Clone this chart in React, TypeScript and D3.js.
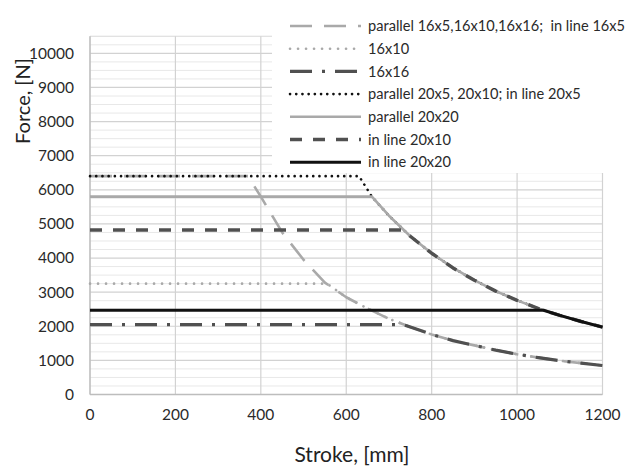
import React from "react";
import * as d3 from "d3";

const W = 636;
const H = 466;

// axis ticks
const xTicks = [0, 200, 400, 600, 800, 1000, 1200];
const yTicks = [0, 1000, 2000, 3000, 4000, 5000, 6000, 7000, 8000, 9000, 10000];
const yMinorStep = 250;
const xMax = 1200;
const yMax = 10500;

// lower buckling curve (16 mm screws)
const strokeLower = [400, 450, 500, 550, 600, 650, 700, 750, 800, 850, 900, 950, 1000, 1050, 1100, 1150, 1200];
const forceLower = [5800, 4750, 3950, 3280, 2850, 2520, 2220, 1980, 1760, 1580, 1440, 1300, 1180, 1080, 990, 920, 850];

// upper buckling curve (20 mm screws)
const strokeUpper = [700, 750, 800, 850, 900, 950, 1000, 1050, 1100, 1150, 1200];
const forceUpper = [5240, 4640, 4140, 3710, 3350, 3030, 2760, 2520, 2320, 2140, 1975];

// plateau segments of each series: [stroke, force]
const plateau16x5 = [[0, 6400], [370, 6400]];
const plateau16x10 = [[0, 3250], [555, 3250]];
const plateau16x16 = [[0, 2050], [733, 2050]];
const plateau20x5 = [[0, 6400], [630, 6400], [660, 5800]];
const plateau20x20p = [[0, 5800], [660, 5800]];
const plateau20x10 = [[0, 4820], [735, 4820]];
const plateau20x20 = [[0, 2470], [1062, 2470]];

const seriesNames = [
  "parallel 16x5,16x10,16x16;\u00a0 in line 16x5",
  "16x10",
  "16x16",
  "parallel 20x5, 20x10; in line 20x5",
  "parallel 20x20",
  "in line 20x10",
  "in line 20x20",
];

const lower = strokeLower.map((s, i) => [s, forceLower[i]]);
const upper = strokeUpper.map((s, i) => [s, forceUpper[i]]);
const tail = (pts: number[][], from: number) => pts.filter((p) => p[0] > from);

const seriesData: number[][][] = [
  [...plateau16x5, ...tail(lower, 370)],
  [...plateau16x10, ...tail(lower, 555)],
  [...plateau16x16, ...tail(lower, 733)],
  [...plateau20x5, ...tail(upper, 660)],
  [...plateau20x20p, ...tail(upper, 660)],
  [...plateau20x10, ...tail(upper, 735)],
  [...plateau20x20, ...tail(upper, 1062)],
];

const styles = [
  { stroke: "#a9a9a9", width: 2.6, dash: "22,12", cap: "butt" },
  { stroke: "#a9a9a9", width: 2.6, dash: "0.1,7.9", cap: "round" },
  { stroke: "#505050", width: 3.2, dash: "22,10,3,10", cap: "butt" },
  { stroke: "#111111", width: 2.6, dash: "0.1,6.1", cap: "round" },
  { stroke: "#a9a9a9", width: 2.6, dash: "", cap: "butt" },
  { stroke: "#505050", width: 3.4, dash: "12,11", cap: "butt" },
  { stroke: "#111111", width: 3, dash: "", cap: "butt" },
];

const FONT = "Lato, 'Open Sans', sans-serif";

export default function App() {
  const left = 90;
  const right = 602.5;
  const top = 36.3;
  const bottom = 394.5;
  const x = d3.scaleLinear().domain([0, xMax]).range([left, right]);
  const y = d3.scaleLinear().domain([0, yMax]).range([bottom, top]);
  const line = d3
    .line<number[]>()
    .x((d) => x(d[0]))
    .y((d) => y(d[1]));

  const minor = d3.range(0, yMax + 1, yMinorStep).filter((v) => v % 1000 !== 0);
  const majorY = d3.range(0, yMax + 1, 1000);

  const legX = 290;
  const legY0 = 26;
  const legStep = 22.7;

  return (
    <svg
      width={W}
      height={H}
      style={{ position: "absolute", left: 0, top: 0, background: "#fff" }}
      fontFamily={FONT}
    >
      <rect x={0} y={0} width={W} height={H} fill="#fff" />
      {minor.map((v) => (
        <line key={"mi" + v} x1={left} x2={right} y1={y(v)} y2={y(v)} stroke="#e8e8e8" strokeWidth={1} />
      ))}
      <line x1={left} x2={right} y1={y(yMax)} y2={y(yMax)} stroke="#e0e0e0" strokeWidth={1} />
      {majorY.map((v) => (
        <line key={"ma" + v} x1={left} x2={right} y1={y(v)} y2={y(v)} stroke="#d2d2d2" strokeWidth={1.2} />
      ))}
      {xTicks.map((v) => (
        <line key={"vx" + v} x1={x(v)} x2={x(v)} y1={top} y2={bottom} stroke="#d2d2d2" strokeWidth={1.2} />
      ))}
      <line x1={left} x2={left} y1={top} y2={bottom} stroke="#bdbdbd" strokeWidth={1.3} />
      <line x1={left} x2={right} y1={bottom} y2={bottom} stroke="#bdbdbd" strokeWidth={1.3} />

      {seriesData.map((pts, i) => (
        <path
          key={"s" + i}
          d={line(pts) || ""}
          fill="none"
          stroke={styles[i].stroke}
          strokeWidth={styles[i].width}
          strokeDasharray={styles[i].dash || undefined}
          strokeLinecap={styles[i].cap as any}
          strokeLinejoin="round"
        />
      ))}

      {yTicks.map((v) => (
        <text key={"yt" + v} x={74} y={y(v)} dy="0.35em" textAnchor="end" fontSize={15.5} fill="#2a2a2a">
          {v}
        </text>
      ))}
      {xTicks.map((v) => (
        <text key={"xt" + v} x={x(v)} y={415} dy="0.35em" textAnchor="middle" fontSize={15.5} fill="#2a2a2a">
          {v}
        </text>
      ))}
      <text
        transform={`translate(23,101) rotate(-90)`}
        dy="0.35em"
        textAnchor="middle"
        fontSize={20}
        fill="#222"
      >
        Force, [N]
      </text>
      <text x={352} y={455} dy="0.35em" textAnchor="middle" fontSize={21} fill="#222">
        Stroke, [mm]
      </text>

      <rect x={272} y={0} width={W - 272} height={173} fill="#fff" />
      {seriesNames.map((name, i) => {
        const ly = legY0 + i * legStep;
        const st = styles[i];
        return (
          <g key={"lg" + i}>
            <line
              x1={legX}
              x2={legX + 71}
              y1={ly}
              y2={ly}
              stroke={st.stroke}
              strokeWidth={st.width}
              strokeDasharray={st.dash || undefined}
              strokeLinecap={st.cap as any}
            />
            <text x={368} y={ly} dy="0.35em" fontSize={14.6} fill="#2a2a2a">
              {name}
            </text>
          </g>
        );
      })}
    </svg>
  );
}
